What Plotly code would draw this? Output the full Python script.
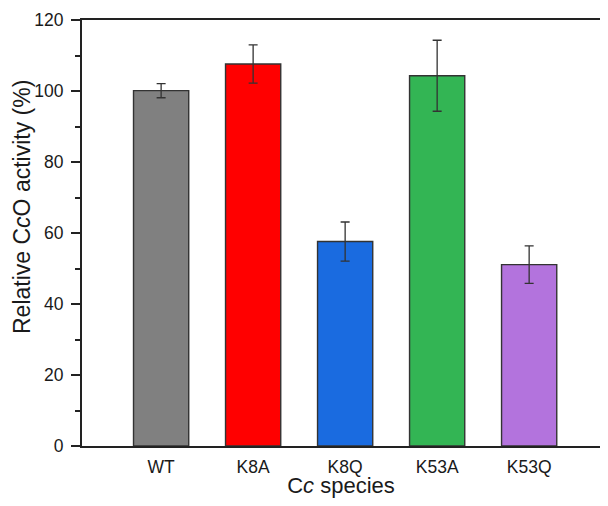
import plotly.graph_objects as go

categories = ["WT", "K8A", "K8Q", "K53A", "K53Q"]
values = [100.1, 107.6, 57.6, 104.3, 51.1]
errors = [2.0, 5.4, 5.5, 10.0, 5.3]
colors = ["#808080", "#FF0000", "#1A6BE0", "#33B554", "#B373DD"]
y_ticks = [0, 20, 40, 60, 80, 100, 120]

# page has an 8px body margin; figure sized so it fits the 608x506 window
W, H = 592, 490
L, T, B = 74, 12, 52

fig = go.Figure()
fig.add_trace(go.Bar(
    x=categories, y=values,
    marker=dict(color=colors, line=dict(color="#333333", width=1.4)),
    width=0.6,
    error_y=dict(type="data", array=errors, visible=True, color="#333333", thickness=1.3, width=4.5),
))

fig.update_layout(
    width=W, height=H,
    margin=dict(l=L, r=0, t=T, b=B, autoexpand=False),
    paper_bgcolor="white", plot_bgcolor="white",
    font=dict(family="Liberation Sans, Arial, sans-serif", color="#1a1a1a"),
    showlegend=False,
)
fig.update_xaxes(
    range=[-0.86, 4.77], automargin=False,
    showline=True, linecolor="#222222", linewidth=2, mirror=True,
    ticks="outside", ticklen=4, tickcolor="rgba(0,0,0,0)", tickfont=dict(size=17.5),
    title=dict(text="C<i>c</i> species", font=dict(size=22), standoff=12),
)
fig.update_yaxes(
    range=[0, 120], tickvals=y_ticks, automargin=False,
    showline=True, linecolor="#222222", linewidth=2,
    ticks="outside", ticklen=9, tickwidth=1.5, tickcolor="#222222",
    minor=dict(dtick=10, ticks="outside", ticklen=5, tickwidth=1.5, tickcolor="#222222"),
    showgrid=False, zeroline=False,
    tickfont=dict(size=17.5), ticklabelstandoff=4,
)
fig.add_annotation(
    text="Relative C<i>c</i>O activity (%)", textangle=-90,
    xref="paper", yref="paper", x=(14 - L) / (W - L), y=(H - B - 199) / (H - B - T),
    xanchor="center", yanchor="middle", showarrow=False,
    font=dict(size=23, family="Liberation Sans, Arial, sans-serif", color="#1a1a1a"),
)

fig.write_html("out.html")
